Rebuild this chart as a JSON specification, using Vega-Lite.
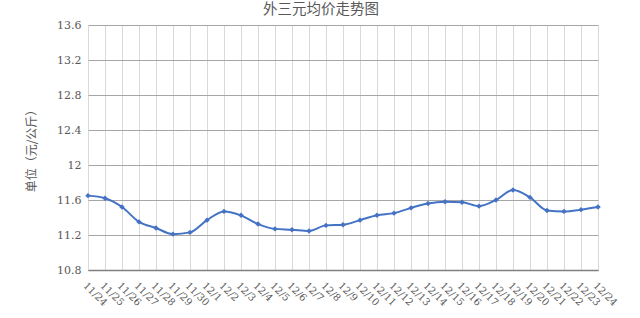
{
  "$schema": "https://vega.github.io/schema/vega-lite/v6.json",
  "autosize": {"type": "none"},
  "width": 510,
  "height": 245,
  "padding": {"left": 88, "top": 25, "right": 42, "bottom": 48},
  "background": "white",
  "title": {
    "text": "外三元均价走势图",
    "font": "Noto Sans CJK SC",
    "fontSize": 14.5,
    "fontWeight": "normal",
    "color": "#595959",
    "anchor": "middle",
    "baseline": "alphabetic",
    "dx": -22,
    "dy": 13,
    "offset": 4
  },
  "config": {
    "view": {"stroke": null},
    "axis": {
      "labelFont": "DejaVu Serif",
      "labelColor": "#595959",
      "titleFont": "Noto Sans CJK SC",
      "titleColor": "#595959",
      "titleFontWeight": "normal"
    }
  },
  "data": {
    "values": [
      {"date": "11/24", "price": 11.65},
      {"date": "11/25", "price": 11.62},
      {"date": "11/26", "price": 11.52},
      {"date": "11/27", "price": 11.35},
      {"date": "11/28", "price": 11.28},
      {"date": "11/29", "price": 11.21},
      {"date": "11/30", "price": 11.23},
      {"date": "12/1", "price": 11.37},
      {"date": "12/2", "price": 11.47},
      {"date": "12/3", "price": 11.425},
      {"date": "12/4", "price": 11.325},
      {"date": "12/5", "price": 11.27},
      {"date": "12/6", "price": 11.26},
      {"date": "12/7", "price": 11.245},
      {"date": "12/8", "price": 11.31},
      {"date": "12/9", "price": 11.317},
      {"date": "12/10", "price": 11.37},
      {"date": "12/11", "price": 11.425},
      {"date": "12/12", "price": 11.45},
      {"date": "12/13", "price": 11.51},
      {"date": "12/14", "price": 11.56},
      {"date": "12/15", "price": 11.58},
      {"date": "12/16", "price": 11.575},
      {"date": "12/17", "price": 11.53},
      {"date": "12/18", "price": 11.6},
      {"date": "12/19", "price": 11.715},
      {"date": "12/20", "price": 11.63},
      {"date": "12/21", "price": 11.48},
      {"date": "12/22", "price": 11.47},
      {"date": "12/23", "price": 11.49},
      {"date": "12/24", "price": 11.52}
    ]
  },
  "encoding": {
    "x": {
      "field": "date",
      "type": "ordinal",
      "sort": null,
      "scale": {"type": "point", "padding": 0},
      "axis": {
        "title": null,
        "labelAngle": 45,
        "labelAlign": "left",
        "labelBaseline": "top",
        "labelFontSize": 10,
        "labelPadding": 10,
        "grid": true,
        "gridColor": "#d9d9d9",
        "gridWidth": 1,
        "domain": true,
        "domainColor": "#7f7f7f",
        "domainWidth": 1.5,
        "ticks": true,
        "tickSize": 0,
        "labelOverlap": false
      }
    },
    "y": {
      "field": "price",
      "type": "quantitative",
      "scale": {"domain": [10.8, 13.6], "zero": false, "nice": false},
      "axis": {
        "title": "单位（元/公斤）",
        "titleFontSize": 12,
        "titlePadding": 18,
        "values": [10.8, 11.2, 11.6, 12, 12.4, 12.8, 13.2, 13.6],
        "format": ".1~f",
        "labelFontSize": 11,
        "labelPadding": 7,
        "grid": true,
        "gridColor": "#a6a6a6",
        "gridWidth": 1.2,
        "domain": false,
        "ticks": false
      }
    }
  },
  "layer": [
    {
      "mark": {"type": "line", "interpolate": "monotone", "color": "#4472C4", "strokeWidth": 2}
    },
    {
      "mark": {"type": "point", "shape": "diamond", "filled": true, "color": "#4472C4", "size": 30, "opacity": 1}
    }
  ]
}
